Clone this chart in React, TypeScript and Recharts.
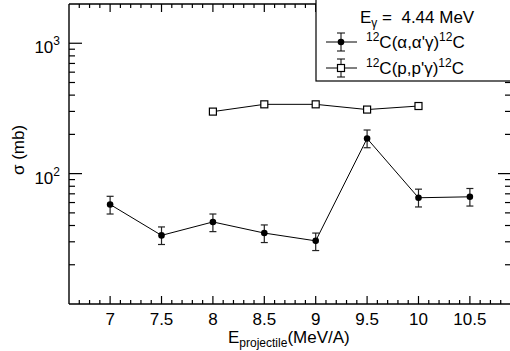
import React from 'react';
import { ComposedChart, ErrorBar, Line, XAxis, YAxis } from 'recharts';

// beam energy (MeV/A) and cross sections (mb)
const energies = [7, 7.5, 8, 8.5, 9, 9.5, 10, 10.5];
const alphaSigma = [58, 33.6, 42.6, 35, 30.5, 186, 65.3, 66.4];
const alphaLow = [49, 28.6, 35.9, 29.6, 25.7, 158, 55.5, 56.4];
const alphaHigh = [67, 39, 49, 40.4, 35, 216, 76, 76.9];
const protonSigma = [null, null, 299, 340, 340, 310, 330, null];

const xMajorTicks = [7, 7.5, 8, 8.5, 9, 9.5, 10, 10.5];
const xTicks = Array.from({ length: 42 }, (_, i) => Math.round((6.7 + i * 0.1) * 10) / 10);
const yMajorTicks = [100, 1000];
const yTicks = [20, 30, 40, 50, 60, 70, 80, 90, 100, 200, 300, 400, 500, 600, 700, 800, 900, 1000];

const data = energies.map((e, i) => ({
  e,
  alpha: alphaSigma[i],
  alphaErr: [alphaSigma[i] - alphaLow[i], alphaHigh[i] - alphaSigma[i]],
  proton: protonSigma[i],
}));

const font = '"Liberation Sans", Arial, Helvetica, sans-serif';

function BottomTick(props: any) {
  const { x, y, payload } = props;
  const major = xMajorTicks.includes(payload.value);
  return (
    <g>
      <path d={`M${x},${y}V${y - (major ? 8 : 4)}`} stroke="#000" strokeWidth={1.2} fill="none" />
      {major && (
        <text x={x} y={y + 21} textAnchor="middle" fontSize={17} fontFamily={font} fill="#000">
          {payload.value}
        </text>
      )}
    </g>
  );
}

function TopTick(props: any) {
  const { x, y, payload } = props;
  const major = xMajorTicks.includes(payload.value);
  return (
    <g>
      <path d={`M${x},${y}V${y + (major ? 8 : 4)}`} stroke="#000" strokeWidth={1.2} fill="none" />
    </g>
  );
}

function LeftTick(props: any) {
  const { x, y, payload } = props;
  const major = yMajorTicks.includes(payload.value);
  return (
    <g>
      <path d={`M${x},${y}H${x + (major ? 13 : 6)}`} stroke="#000" strokeWidth={1.2} fill="none" />
      {major && (
        <text x={x - 9} y={y + 10} textAnchor="end" fontSize={17} fontFamily={font} fill="#000">
          <tspan>10</tspan>
          <tspan dy={-8} fontSize={12}>{Math.round(Math.log10(payload.value))}</tspan>
        </text>
      )}
    </g>
  );
}

function RightTick(props: any) {
  const { x, y, payload } = props;
  const major = yMajorTicks.includes(payload.value);
  return (
    <g>
      <path d={`M${x},${y}H${x - (major ? 13 : 6)}`} stroke="#000" strokeWidth={1.2} fill="none" />
    </g>
  );
}

function CircleDot(props: any) {
  const { cx, cy, value } = props;
  if (value == null || cy == null) return <g key={props.index} />;
  return <circle key={props.index} cx={cx} cy={cy} r={3.3} fill="#000" />;
}

function SquareDot(props: any) {
  const { cx, cy, value } = props;
  if (value == null || cy == null) return <g key={props.index} />;
  return <rect key={props.index} x={cx - 3.5} y={cy - 3.5} width={7} height={7} fill="#fff" stroke="#000" strokeWidth={1.2} />;
}

export default function App() {
  return (
    <div style={{ position: 'absolute', left: 0, top: 0, width: 510, height: 351, overflow: 'hidden' }}>
      <ComposedChart width={530} height={351} data={data} margin={{ top: 3, right: 18, bottom: 0, left: 0 }}>
        <XAxis
          xAxisId="b"
          dataKey="e"
          type="number"
          domain={[6.6, 10.9]}
          allowDataOverflow
          ticks={xTicks}
          interval={0}
          tick={<BottomTick />}
          tickLine={false}
          tickSize={0}
          tickMargin={0}
          height={47}
          axisLine={{ stroke: '#000', strokeWidth: 1.4 }}
        />
        <XAxis
          xAxisId="t"
          orientation="top"
          dataKey="e"
          type="number"
          domain={[6.6, 10.9]}
          allowDataOverflow
          ticks={xTicks}
          interval={0}
          tick={<TopTick />}
          tickLine={false}
          tickSize={0}
          tickMargin={0}
          height={1}
          axisLine={{ stroke: '#000', strokeWidth: 1.4 }}
        />
        <YAxis
          yAxisId="l"
          scale="log"
          domain={[10, 2000]}
          allowDataOverflow
          ticks={yTicks}
          interval={0}
          tick={<LeftTick />}
          tickLine={false}
          tickSize={0}
          tickMargin={0}
          width={69}
          axisLine={{ stroke: '#000', strokeWidth: 1.4 }}
        />
        <YAxis
          yAxisId="r"
          orientation="right"
          scale="log"
          domain={[10, 2000]}
          allowDataOverflow
          ticks={yTicks}
          interval={0}
          tick={<RightTick />}
          tickLine={false}
          tickSize={0}
          tickMargin={0}
          width={1}
          axisLine={{ stroke: '#000', strokeWidth: 1.4 }}
        />
        <Line
          xAxisId="b"
          yAxisId="l"
          dataKey="proton"
          type="linear"
          stroke="#000"
          strokeWidth={1}
          dot={SquareDot}
          activeDot={false}
          isAnimationActive={false}
        />
        <Line
          xAxisId="b"
          yAxisId="l"
          dataKey="alpha"
          type="linear"
          stroke="#000"
          strokeWidth={1}
          dot={CircleDot}
          activeDot={false}
          isAnimationActive={false}
        >
          <ErrorBar dataKey="alphaErr" direction="y" width={3.5} stroke="#222" strokeWidth={1.2} isAnimationActive={false} />
        </Line>
      </ComposedChart>
      <svg width={510} height={351} style={{ position: 'absolute', left: 0, top: 0, pointerEvents: 'none' }} fontFamily={font}>
        <text x={24} y={150} transform="rotate(-90 24 150)" textAnchor="middle" fontSize={17} fill="#000">
          σ (mb)
        </text>
        <text x={228} y={343} fontSize={17} fill="#000">
          <tspan>E</tspan>
          <tspan dy={4} fontSize={12}>projectile</tspan>
          <tspan dy={-4}>(MeV/A)</tspan>
        </text>
        <rect x={316} y={-2} width={220} height={83} fill="#fff" stroke="#000" strokeWidth={1.2} />
        <text x={360} y={23} fontSize={17} fill="#000" style={{ whiteSpace: 'pre' }}>
          <tspan>E</tspan>
          <tspan dy={4} fontSize={12}>γ</tspan>
          <tspan dy={-4}>{' =  4.44 MeV'}</tspan>
        </text>
        <g stroke="#000" strokeWidth={1}>
          <line x1={326} x2={357} y1={42} y2={42} />
          <line x1={341} x2={341} y1={33} y2={51} />
          <line x1={337} x2={345} y1={33} y2={33} />
          <line x1={337} x2={345} y1={51} y2={51} />
          <line x1={326} x2={357} y1={68} y2={68} />
          <line x1={341} x2={341} y1={59} y2={77} />
          <line x1={337} x2={345} y1={59} y2={59} />
          <line x1={337} x2={345} y1={77} y2={77} />
        </g>
        <circle cx={341} cy={42} r={3.3} fill="#000" />
        <rect x={337.5} y={64.5} width={7} height={7} fill="#fff" stroke="#000" strokeWidth={1.2} />
        <text x={366} y={48} fontSize={17} fill="#000">
          <tspan dy={-7} fontSize={12}>12</tspan>
          <tspan dy={7}>C(α,α'γ)</tspan>
          <tspan dy={-7} fontSize={12}>12</tspan>
          <tspan dy={7}>C</tspan>
        </text>
        <text x={366} y={74} fontSize={17} fill="#000">
          <tspan dy={-7} fontSize={12}>12</tspan>
          <tspan dy={7}>C(p,p'γ)</tspan>
          <tspan dy={-7} fontSize={12}>12</tspan>
          <tspan dy={7}>C</tspan>
        </text>
      </svg>
    </div>
  );
}
